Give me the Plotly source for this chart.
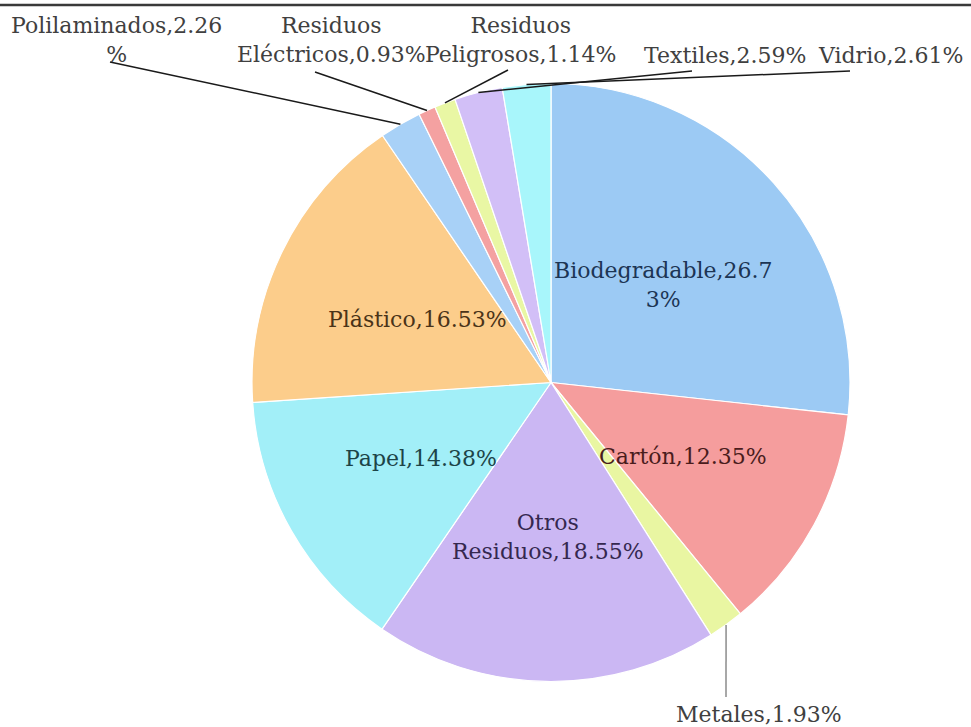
import numpy as np
import plotly.graph_objects as go

W, H = 971, 727

categories = ["Biodegradable", "Cartón", "Metales", "Otros Residuos", "Papel", "Plástico",
              "Polilaminados", "Residuos Eléctricos", "Residuos Peligrosos", "Textiles", "Vidrio"]
values = [26.73, 12.35, 1.93, 18.55, 14.38, 16.53, 2.26, 0.93, 1.14, 2.59, 2.61]
label_texts = ["Biodegradable,26.7<br>3%", "Cartón,12.35%", "Metales,1.93%",
               "Otros<br>Residuos,18.55%", "Papel,14.38%", "Plástico,16.53%",
               "Polilaminados,2.26<br>%", "Residuos<br>Eléctricos,0.93%",
               "Residuos<br>Peligrosos,1.14%", "Textiles,2.59%", "Vidrio,2.61%"]

colors = ["#9ccaf4", "#f59d9d", "#e9f6a2", "#cbb7f3", "#a2eff8", "#fccd8b",
          "#a8d1f7", "#f4a1a1", "#e9f7a4", "#d2bff7", "#a8f6fb"]
text_colors = ["#1c3554", "#4a1c1c", "#404040", "#35284f", "#1d4448", "#4a3318",
               "#404040", "#404040", "#404040", "#404040", "#404040"]

# layout: label centres (px) and leader-line start points (px) for outside labels
label_pos = [(663, 285), (683, 456), (759, 714), (548, 537), (421, 458), (417, 319),
             (116, 40), (331, 40), (520, 40), (725, 55), (890, 55)]
leader_start = {2: (726, 697), 6: (110, 62), 7: (315, 72), 8: (508, 70), 9: (692, 71), 10: (850, 71)}

cx, cy, R = 551, 382.5, 299


def px(x):
    return x / W


def py(y):
    return 1 - y / H


fig = go.Figure(go.Pie(
    labels=categories, values=values, sort=False, direction="clockwise", rotation=0,
    textinfo="none", hoverinfo="label+percent", showlegend=False,
    marker=dict(colors=colors, line=dict(color="white", width=1.2)),
    domain=dict(x=[px(cx - R), px(cx + R)], y=[py(cy + R), py(cy - R)]),
))

# leader lines: from label to slice edge at mid-angle
vals = np.array(values)
cum = np.cumsum(vals) - vals / 2
ang = 2 * np.pi * cum / vals.sum()
shapes = []
for i, (sx, sy) in leader_start.items():
    ex = cx + R * np.sin(ang[i])
    ey = cy - R * np.cos(ang[i])
    shapes.append(dict(type="line", xref="paper", yref="paper",
                       x0=px(sx), y0=py(sy), x1=px(ex), y1=py(ey),
                       line=dict(color="#8c8c8c" if i == 2 else "#1a1a1a", width=1.5)))

# top border line
shapes.append(dict(type="line", xref="paper", yref="paper", x0=0, x1=1, y0=py(5), y1=py(5),
                   line=dict(color="#3a3a3a", width=2.5)))

annotations = []
for i, t in enumerate(label_texts):
    x, y = label_pos[i]
    annotations.append(dict(text=t, x=px(x), y=py(y), xref="paper", yref="paper",
                            xanchor="center", yanchor="middle", showarrow=False, align="center",
                            font=dict(family="DejaVu Serif", size=22, color=text_colors[i])))

fig.update_layout(width=W, height=H, margin=dict(l=0, r=0, t=0, b=0),
                  paper_bgcolor="white", plot_bgcolor="white",
                  shapes=shapes, annotations=annotations)

fig.write_html("out.html", config={"displayModeBar": False},
               post_script="document.body.style.margin='0';document.body.style.overflow='hidden';")
